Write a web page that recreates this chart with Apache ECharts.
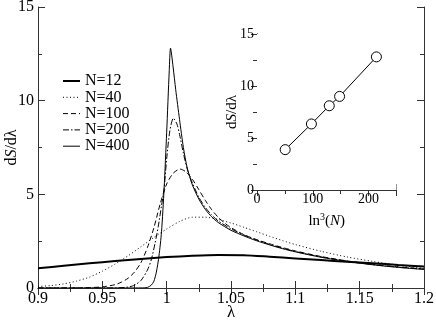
<!DOCTYPE html>
<html>
<head>
<meta charset="utf-8">
<script src="https://cdn.jsdelivr.net/npm/echarts@6/dist/echarts.min.js"></script>
<style>
  html, body { margin: 0; padding: 0; background: #fff; }
  #chart { width: 436px; height: 322px; }
</style>
</head>
<body>
<div id="chart"></div>
<script>
// 主图数据 (λ, dS/dλ)
const lam12 = [0.9, 0.92, 0.94, 0.96, 0.98, 1.0, 1.02, 1.04, 1.06, 1.08, 1.1, 1.12, 1.14, 1.16, 1.18, 1.2];
const val12 = [1.05, 1.19, 1.32, 1.44, 1.55, 1.65, 1.72, 1.76, 1.75, 1.67, 1.58, 1.49, 1.4, 1.32, 1.23, 1.15];

const lam40 = [0.9, 0.91, 0.92, 0.93, 0.94, 0.95, 0.96, 0.97, 0.98, 0.99, 1.0, 1.01, 1.02, 1.03, 1.04, 1.05, 1.06, 1.07, 1.08, 1.09, 1.1, 1.12, 1.14, 1.16, 1.18, 1.2];
const val40 = [0.08, 0.13, 0.22, 0.37, 0.58, 0.9, 1.28, 1.72, 2.2, 2.7, 3.15, 3.55, 3.78, 3.78, 3.66, 3.47, 3.24, 3.0, 2.76, 2.53, 2.32, 1.96, 1.66, 1.42, 1.22, 1.05];

const lam100 = [0.9, 0.93, 0.94, 0.95, 0.96, 0.965, 0.97, 0.975, 0.98, 0.985, 0.99, 0.995, 1.0, 1.005, 1.0104, 1.015, 1.02, 1.025, 1.03, 1.035, 1.04, 1.045, 1.05, 1.06, 1.07, 1.08, 1.09, 1.1, 1.12, 1.14, 1.16, 1.18, 1.2];
const val100 = [0, 0.005, 0.02, 0.06, 0.18, 0.32, 0.52, 0.85, 1.35, 2.15, 3.2, 4.5, 5.55, 6.12, 6.35, 6.2, 5.8, 5.25, 4.68, 4.18, 3.78, 3.47, 3.22, 2.85, 2.58, 2.36, 2.16, 1.98, 1.68, 1.45, 1.27, 1.13, 1.02];

const lam200 = [0.9, 0.96, 0.97, 0.975, 0.98, 0.985, 0.988, 0.991, 0.9935, 0.996, 0.998, 1.0, 1.0025, 1.0052, 1.008, 1.01, 1.013, 1.016, 1.02, 1.025, 1.03, 1.035, 1.04, 1.05, 1.06, 1.07, 1.08, 1.09, 1.1, 1.12, 1.14, 1.16, 1.18, 1.2];
const val200 = [0, 0.005, 0.05, 0.15, 0.4, 0.95, 1.5, 2.4, 3.3, 4.4, 5.3, 6.9, 8.4, 9.06, 8.75, 8.2, 7.2, 6.35, 5.6, 4.85, 4.3, 3.9, 3.58, 3.16, 2.83, 2.56, 2.33, 2.13, 1.95, 1.66, 1.43, 1.25, 1.11, 1.0];

const lam400 = [0.9, 0.98, 0.985, 0.988, 0.99, 0.992, 0.994, 0.996, 0.998, 1.0, 1.002, 1.003, 1.005, 1.007, 1.01, 1.013, 1.016, 1.02, 1.025, 1.03, 1.035, 1.04, 1.05, 1.06, 1.07, 1.08, 1.09, 1.1, 1.12, 1.14, 1.16, 1.18, 1.2];
const val400 = [0, 0.005, 0.03, 0.15, 0.35, 0.85, 1.7, 3.0, 5.3, 8.3, 11.6, 12.8, 11.8, 10.6, 9.0, 7.5, 6.4, 5.5, 4.75, 4.2, 3.8, 3.5, 3.08, 2.78, 2.52, 2.3, 2.1, 1.93, 1.64, 1.42, 1.24, 1.1, 0.99];

// 插图数据 (ln^3 N, 峰值)
const insetX = [50.5, 97.5, 129.5, 148, 214];
const insetY = [3.88, 6.35, 8.1, 9.0, 12.8];

const seriesNames = ['N=12', 'N=40', 'N=100', 'N=200', 'N=400'];

const FONT = '"Liberation Serif", serif';
const AXIS_COLOR = '#333';

const pairs = (xs, ys) => xs.map((x, i) => [x, ys[i]]);

// 各曲线线型
const styles = {
  'N=12': { width: 2, type: 'solid' },
  'N=40': { width: 1, type: [1, 2.5] },
  'N=100': { width: 1, type: [5, 3] },
  'N=200': { width: 1, type: [6, 2, 1.5, 2] },
  'N=400': { width: 1, type: 'solid' },
};

// 坐标轴公共样式
const frameAxis = (extra) => Object.assign({
  type: 'value',
  nameMoveOverlap: false,
  axisLine: { show: true, lineStyle: { color: AXIS_COLOR, width: 1 } },
  axisTick: { show: true, inside: true, length: 7, lineStyle: { color: AXIS_COLOR } },
  minorTick: { show: true, splitNumber: 2, length: 4, lineStyle: { color: AXIS_COLOR } },
  splitLine: { show: false },
  minorSplitLine: { show: false },
}, extra);

const fmtX = (v) => String(+v.toFixed(3));

const chart = echarts.init(document.getElementById('chart'));

const lineSeries = (name, xs, ys) => ({
  name: name,
  type: 'line',
  xAxisIndex: 0,
  yAxisIndex: 0,
  data: pairs(xs, ys),
  showSymbol: false,
  symbol: 'none',
  smooth: 0.25,
  lineStyle: Object.assign({ color: '#000' }, styles[name]),
  itemStyle: { color: '#000' },
  z: 2,
});

const option = {
  animation: false,
  backgroundColor: '#fff',
  grid: [
    { left: 38, right: 12, top: 7, bottom: 34, outerBoundsMode: 'none' },
    { left: 257, right: 39.5, top: 34, bottom: 132, outerBoundsMode: 'none', show: true, backgroundColor: '#fff', borderWidth: 0, z: 5 },
  ],
  legend: {
    orient: 'vertical',
    left: 62,
    top: 73,
    itemWidth: 17,
    itemHeight: 15,
    itemGap: 0.3,
    padding: 0,
    selectedMode: false,
    data: seriesNames.map((n) => ({
      name: n,
      itemStyle: { opacity: 0 },
      lineStyle: { color: '#000', width: styles[n].width, type: styles[n].type },
    })),
    textStyle: { fontFamily: FONT, fontSize: 16, color: '#000', lineHeight: 15 },
  },
  xAxis: [
    frameAxis({
      gridIndex: 0, position: 'bottom', min: 0.9, max: 1.2, interval: 0.05,
      name: 'λ', nameLocation: 'middle', nameGap: 16,
      nameTextStyle: { fontFamily: FONT, fontSize: 17, color: '#000' },
      axisLabel: { fontFamily: FONT, fontSize: 16, color: '#000', margin: 3, formatter: fmtX },
    }),
    frameAxis({
      gridIndex: 0, position: 'top', min: 0.9, max: 1.2, interval: 0.05,
      axisLabel: { show: false },
    }),
    frameAxis({
      gridIndex: 1, position: 'bottom', min: 0, max: 250, interval: 100,
      name: '{a|ln}{sup|3}{a|(}{i|N}{a|)}', nameLocation: 'middle', nameGap: 22,
      nameTextStyle: {
        rich: {
          a: { fontFamily: FONT, fontSize: 15, color: '#000' },
          i: { fontFamily: FONT, fontSize: 15, color: '#000', fontStyle: 'italic' },
          sup: { fontFamily: FONT, fontSize: 10, color: '#000', verticalAlign: 'top', padding: [0, 0, 8, 0] },
        },
      },
      axisTick: { show: true, inside: true, length: 6, lineStyle: { color: AXIS_COLOR } },
      minorTick: { show: true, splitNumber: 2, length: 4, lineStyle: { color: AXIS_COLOR } },
      axisLabel: { fontFamily: FONT, fontSize: 14, color: '#000', margin: 2, showMaxLabel: false },
    }),
    frameAxis({
      gridIndex: 1, position: 'top', min: 0, max: 250, interval: 100,
      axisTick: { show: true, inside: true, length: 6, lineStyle: { color: AXIS_COLOR } },
      axisLabel: { show: false },
    }),
  ],
  yAxis: [
    frameAxis({
      gridIndex: 0, position: 'left', min: 0, max: 15, interval: 5,
      name: '{a|d}{i|S}{a|/dλ}', nameLocation: 'middle', nameGap: 18, nameRotate: 90,
      nameTextStyle: {
        rich: {
          a: { fontFamily: FONT, fontSize: 16, color: '#000' },
          i: { fontFamily: FONT, fontSize: 16, color: '#000', fontStyle: 'italic' },
        },
      },
      axisLabel: { fontFamily: FONT, fontSize: 16, color: '#000', margin: 4 },
    }),
    frameAxis({
      gridIndex: 0, position: 'right', min: 0, max: 15, interval: 5,
      axisLabel: { show: false },
    }),
    frameAxis({
      gridIndex: 1, position: 'left', min: 0, max: 15, interval: 5,
      name: '{a|d}{i|S}{a|/dλ}', nameLocation: 'middle', nameGap: 17, nameRotate: 90,
      nameTextStyle: {
        rich: {
          a: { fontFamily: FONT, fontSize: 15, color: '#000' },
          i: { fontFamily: FONT, fontSize: 15, color: '#000', fontStyle: 'italic' },
        },
      },
      axisTick: { show: true, inside: true, length: 6, lineStyle: { color: AXIS_COLOR } },
      axisLabel: { fontFamily: FONT, fontSize: 14, color: '#000', margin: 3 },
    }),
    frameAxis({
      gridIndex: 1, position: 'right', min: 0, max: 15, interval: 5,
      axisTick: { show: true, inside: true, length: 6, lineStyle: { color: AXIS_COLOR } },
      axisLabel: { show: false },
    }),
  ],
  series: [
    lineSeries('N=12', lam12, val12),
    lineSeries('N=40', lam40, val40),
    lineSeries('N=100', lam100, val100),
    lineSeries('N=200', lam200, val200),
    lineSeries('N=400', lam400, val400),
    {
      name: 'inset',
      type: 'line',
      xAxisIndex: 2,
      yAxisIndex: 2,
      data: pairs(insetX, insetY),
      symbol: 'circle',
      symbolSize: 10,
      itemStyle: { color: '#fff', borderColor: '#000', borderWidth: 1 },
      lineStyle: { color: '#000', width: 1 },
      z: 6,
    },
  ],
};

chart.setOption(option);
</script>
</body>
</html>
